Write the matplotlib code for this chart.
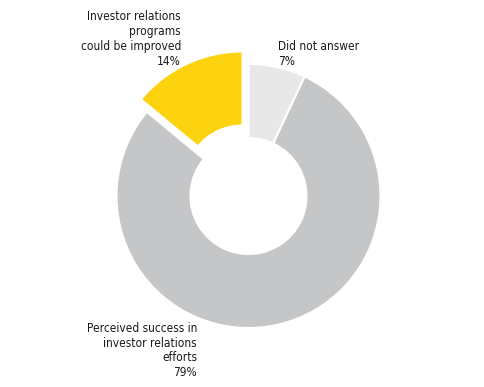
import matplotlib
matplotlib.use("Agg")
import matplotlib.pyplot as plt

labels = ["Did not answer\n7%",
          "Perceived success in\ninvestor relations\nefforts\n79%",
          "Investor relations\nprograms\ncould be improved\n14%"]
values = [7, 79, 14]
colors = ["#e8e8e8", "#c5c6c8", "#fdd20e"]
explode_frac = [0, 0, 0.105]

W, H = 485, 387
fig = plt.figure(figsize=(W / 100, H / 100), dpi=100)
ax = fig.add_axes([0, 0, 1, 1])

cx, cy, R = 248.5, H - 196, 132
ax.pie(values, colors=colors, explode=[e * R for e in explode_frac],
       startangle=90, counterclock=False,
       center=(cx, cy), radius=R, frame=True,
       wedgeprops=dict(width=R - 58, edgecolor="white", linewidth=1.5))
ax.set_xlim(0, W)
ax.set_ylim(0, H)
ax.set_aspect("equal")
ax.axis("off")

kw = dict(fontsize=8.6, family="DejaVu Sans", fontstretch="condensed",
          color="#1a1a1a", linespacing=1.17, va="top")
ax.text(278, H - 40, labels[0], ha="left", multialignment="left", **kw)
ax.text(181, H - 10.5, labels[2], ha="right", multialignment="right", **kw)
ax.text(197, H - 322, labels[1], ha="right", multialignment="right", **kw)

fig.savefig("out.png", dpi=100)
